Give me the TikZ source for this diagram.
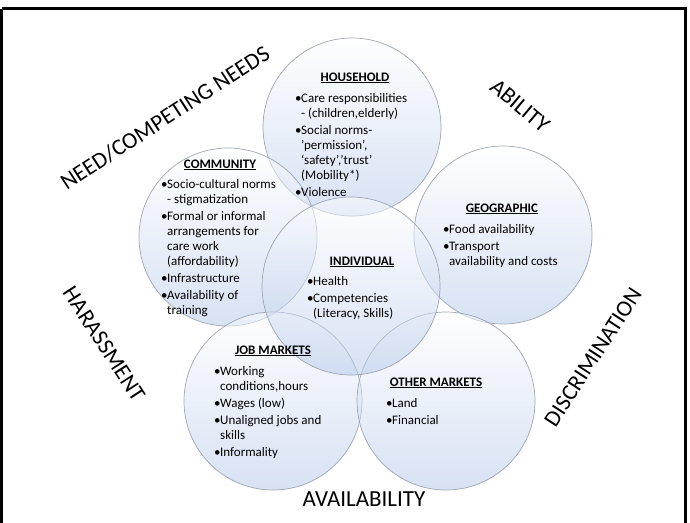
\documentclass[tikz,border=0pt]{standalone}
\usepackage{fontspec}
\setmainfont{Carlito}
\usetikzlibrary{calc}
\definecolor{circbot}{RGB}{176,198,233}
\definecolor{circedge}{RGB}{150,158,175}
\tikzset{
  circ/.style={circle, minimum size=178pt, inner sep=0pt, draw=circedge, line width=0.7pt,
    top color=white, bottom color=circbot, fill opacity=0.5, draw opacity=0.9},
  hdr/.style={anchor=base, inner sep=0pt, font=\fontsize{13}{15}\selectfont\bfseries},
  lst/.style={anchor=base west, inner sep=0pt, font=\fontsize{13}{15}\selectfont},
  big/.style={inner sep=0pt, font=\fontsize{23}{26}\selectfont},
}
\newcommand{\bu}{\makebox[6pt][l]{\textbullet}}
\newcommand{\gap}{\\[2pt]}
\begin{document}
\begin{tikzpicture}[x=1pt,y=-1pt]
\useasboundingbox (0,0) rectangle (690,522);
\fill[white] (0,0) rectangle (690,522);
\draw[line width=3pt] (1.5,8.5) -- (685,8.5) -- (685,540);
\draw[line width=3pt] (1.5,8.5) -- (1.5,540);

% circles
\node[circ] (hh) at (352,127) {};
\node[circ] (cm) at (228,237) {};
\node[circ] (gg) at (503,235) {};
\node[circ] (jm) at (273,401) {};
\node[circ] (om) at (446,401) {};
\node[circ] (in) at (351,286) {};

% household
\node[hdr] (hhh) at (355,81) {\underline{HOUSEHOLD}};
\node[lst] (hhl) at (295,102) {\begin{tabular}[t]{@{}l@{}l@{}}
\bu & Care responsibilities\\
 & - (children,elderly)\gap
\bu & Social norms-\\
 & ’permission’,\\
 & ‘safety’,’trust’\\
 & (Mobility*)\gap
\bu & Violence
\end{tabular}};

% community
\node[hdr] (cmh) at (220,168) {\underline{COMMUNITY}};
\node[lst] (cml) at (161,188) {\begin{tabular}[t]{@{}l@{}l@{}}
\bu & Socio-cultural norms\\
 & - stigmatization\gap
\bu & Formal or informal\\
 & arrangements for\\
 & care work\\
 & (affordability)\gap
\bu & Infrastructure\gap
\bu & Availability of\\
 & training
\end{tabular}};

% geographic
\node[hdr] (ggh) at (502,212) {\underline{GEOGRAPHIC}};
\node[lst] (ggl) at (443,233) {\begin{tabular}[t]{@{}l@{}l@{}}
\bu & Food availability\gap
\bu & Transport\\
 & availability and costs
\end{tabular}};

% individual
\node[hdr] (inh) at (362,265) {\underline{INDIVIDUAL}};
\node[lst] (inl) at (307,285) {\begin{tabular}[t]{@{}l@{}l@{}}
\bu & Health\gap
\bu & Competencies\\
 & (Literacy, Skills)
\end{tabular}};

% job markets
\node[hdr] (jmh) at (273,354) {\underline{JOB MARKETS}};
\node[lst] (jml) at (214,375) {\begin{tabular}[t]{@{}l@{}l@{}}
\bu & Working\\
 & conditions,hours\gap
\bu & Wages (low)\gap
\bu & Unaligned jobs and\\
 & skills\gap
\bu & Informality
\end{tabular}};

% other markets
\node[hdr] (omh) at (436,386) {\underline{OTHER MARKETS}};
\node[lst] (oml) at (386,407) {\begin{tabular}[t]{@{}l@{}l@{}}
\bu & Land\gap
\bu & Financial
\end{tabular}};

% big labels
\node[big, rotate=33] (need) at (165,118) {NEED/COMPETING NEEDS};
\node[big, rotate=-40] (abil) at (520,106) {ABILITY};
\node[big, rotate=-57] (hara) at (104,344) {HARASSMENT};
\node[big, rotate=57] (disc) at (593,357) {DISCRIMINATION};
\node[big] (avail) at (364,499) {AVAILABILITY};
\end{tikzpicture}
\end{document}
